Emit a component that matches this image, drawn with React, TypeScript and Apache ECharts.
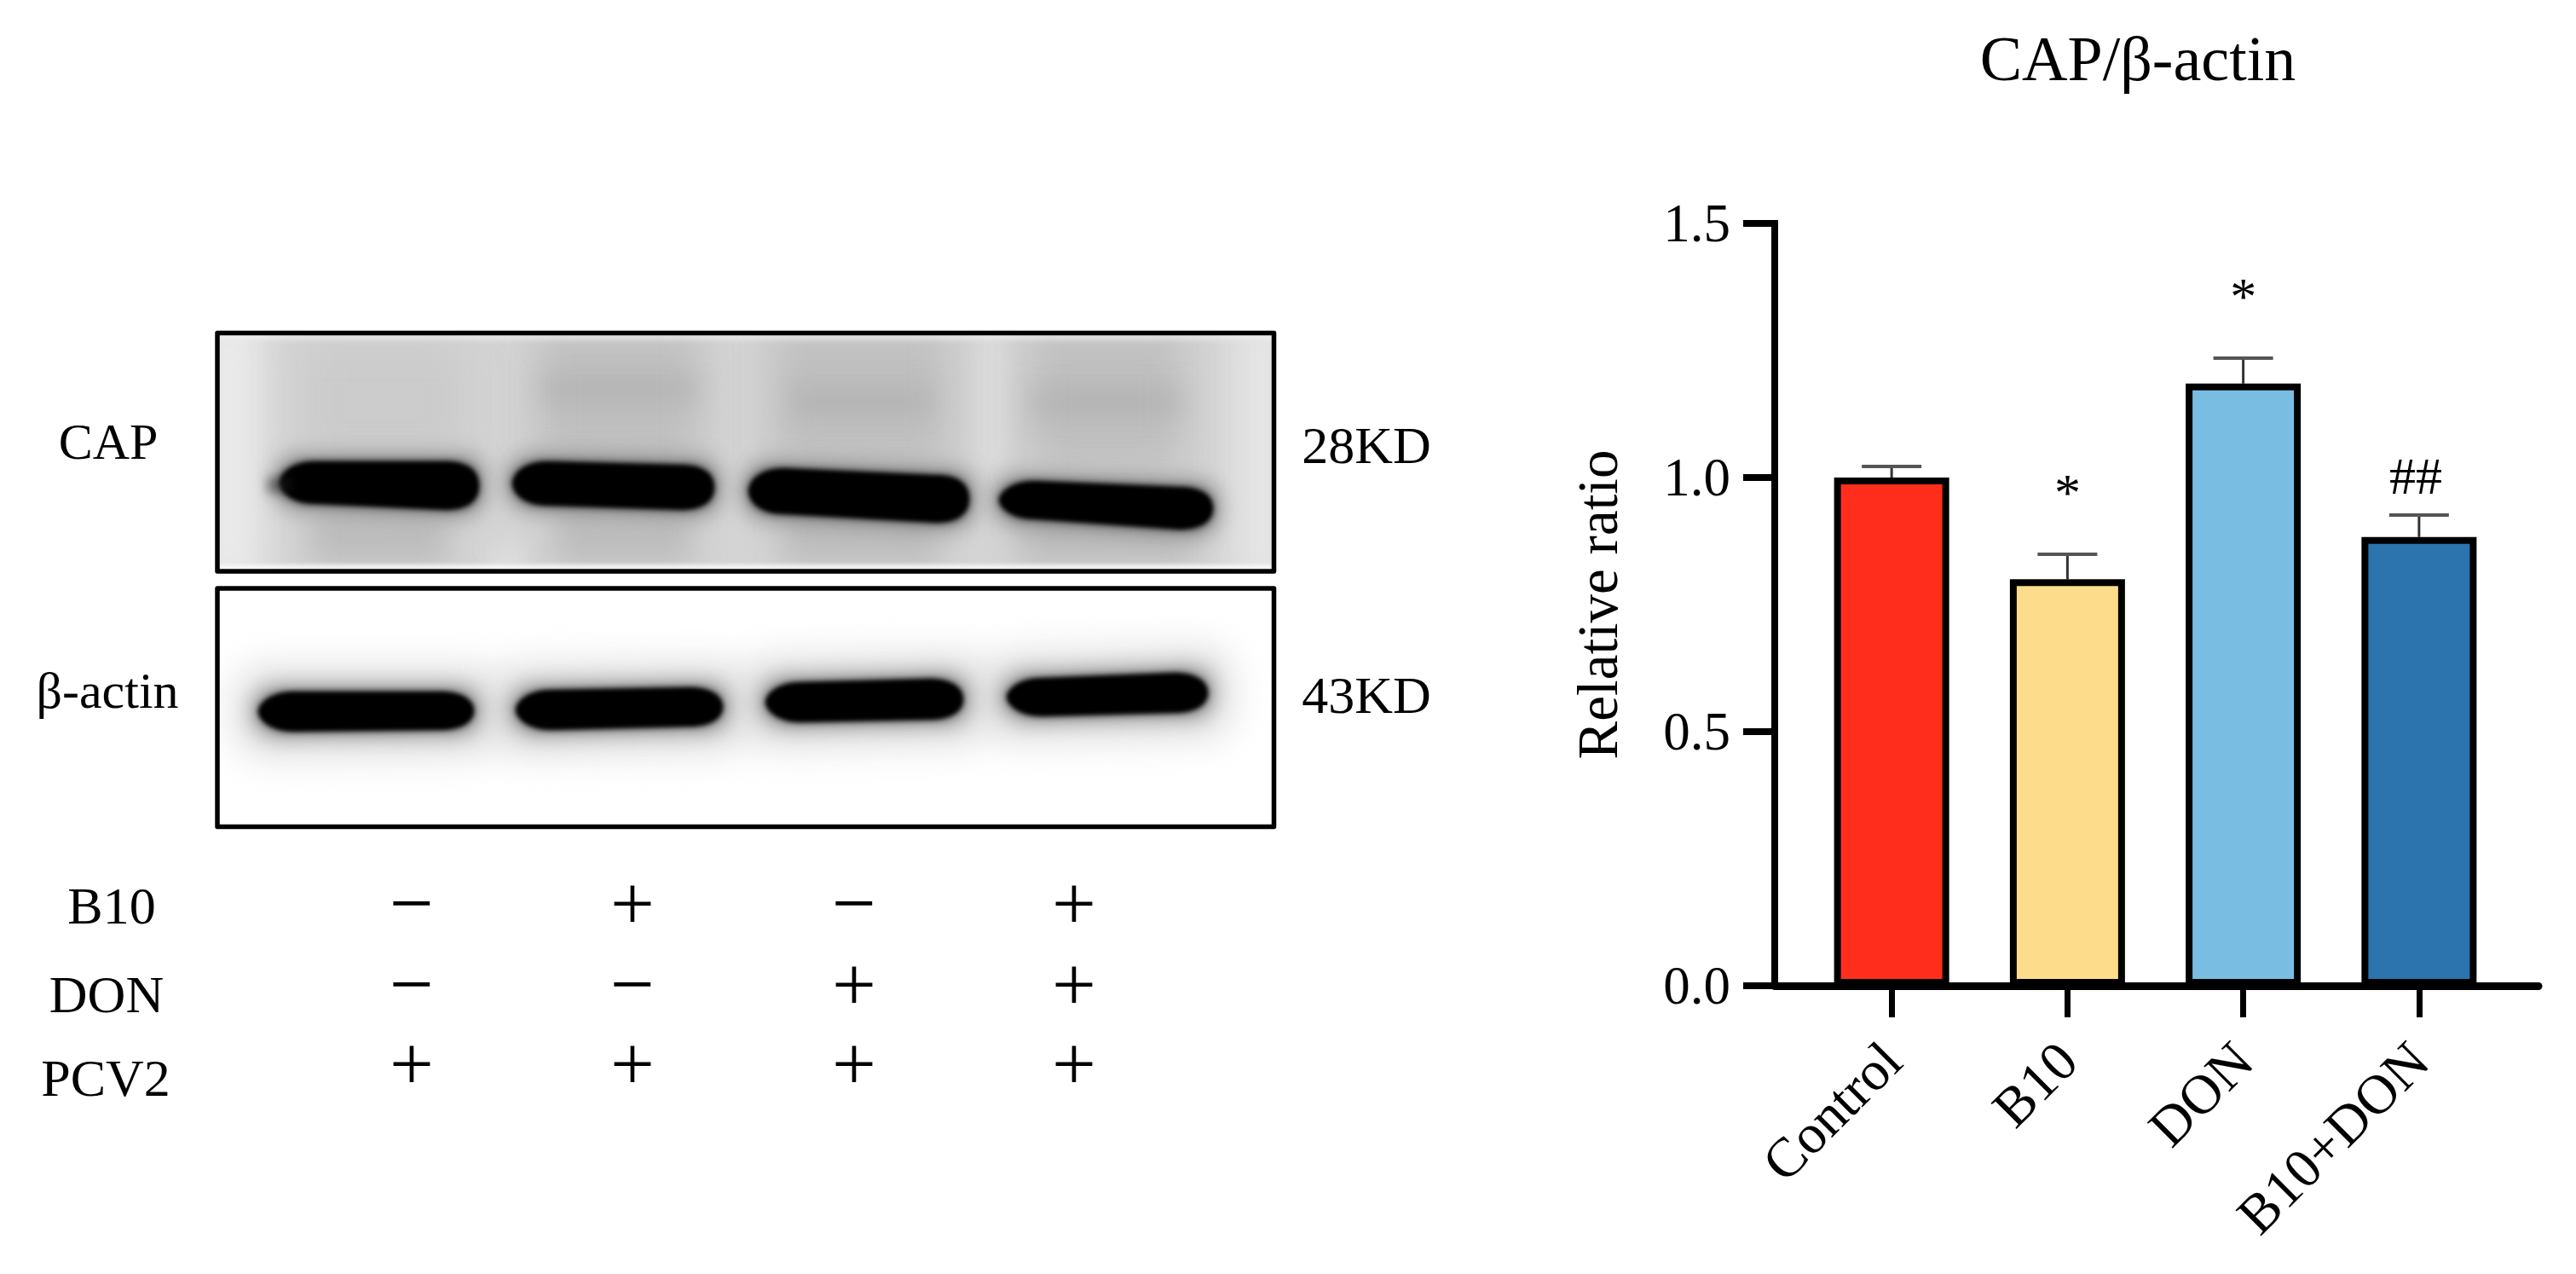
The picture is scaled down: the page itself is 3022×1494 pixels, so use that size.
import React, { useEffect, useRef } from "react";
import * as echarts from "echarts";

const categories = ["Control", "B10", "DON", "B10+DON"];
const meanValues = [1.0, 0.8, 1.185, 0.883];
const errorTops = [1.022, 0.849, 1.235, 0.926];
const annotations = ["", "*", "*", "##"];
const barColors = ["#FF2E1C", "#FDDD8B", "#7ABDE3", "#2B74AE"];
const yTicks = { min: 0, max: 1.5, interval: 0.5 };
const signRows = [
  { name: "B10", signs: ["−", "+", "−", "+"] },
  { name: "DON", signs: ["−", "−", "+", "+"] },
  { name: "PCV2", signs: ["+", "+", "+", "+"] },
];

const FONT = '"Liberation Serif", "Times New Roman", serif';

// x0, x1, topLeft, bottomLeft, topRight, bottomRight
type Band = [number, number, number, number, number, number];
const capBands: Band[] = [
  [328, 562, 541, 591, 541, 598],
  [601, 838, 541, 593, 545, 598],
  [878, 1137, 549, 603, 557, 613],
  [1172, 1423, 564, 609, 571, 621],
];
const actinBands: Band[] = [
  [303, 556, 811, 858, 811, 856],
  [605, 848, 809, 856, 806, 852],
  [898, 1130, 800, 847, 796, 844],
  [1181, 1417, 795, 840, 789, 836],
];

function bandPath(ctx: CanvasRenderingContext2D, b: Band, grow = 0) {
  const x0 = b[0] - grow;
  const x1 = b[1] + grow;
  const tl = b[2] - grow;
  const bl = b[3] + grow;
  const tr = b[4] - grow;
  const br = b[5] + grow;
  const il = 42;
  const ir = 40;
  const ml = (tl + bl) / 2;
  const mr = (tr + br) / 2;
  ctx.beginPath();
  ctx.moveTo(x0, ml);
  ctx.bezierCurveTo(x0 + 1, tl + 12, x0 + il * 0.4, tl, x0 + il, tl);
  ctx.lineTo(x1 - ir, tr);
  ctx.bezierCurveTo(x1 - ir * 0.35, tr, x1, tr + 10, x1, mr);
  ctx.bezierCurveTo(x1, br - 10, x1 - ir * 0.35, br, x1 - ir, br);
  ctx.lineTo(x0 + il, bl);
  ctx.bezierCurveTo(x0 + il * 0.4, bl, x0 + 1, bl - 12, x0, ml);
  ctx.closePath();
}

function drawBands(ctx: CanvasRenderingContext2D, bands: Band[], halos: [string, number, number][]) {
  for (const [color, grow, blur] of halos) {
    ctx.filter = `blur(${blur}px)`;
    ctx.fillStyle = color;
    for (const b of bands) {
      bandPath(ctx, b, grow);
      ctx.fill();
    }
  }
  ctx.filter = "blur(2.5px)";
  ctx.fillStyle = "#000";
  for (const b of bands) {
    bandPath(ctx, b);
    ctx.fill();
  }
  ctx.filter = "none";
}

function blob(ctx: CanvasRenderingContext2D, x: number, y: number, w: number, h: number, color: string, blur: number) {
  ctx.filter = `blur(${blur}px)`;
  ctx.fillStyle = color;
  ctx.fillRect(x, y, w, h);
  ctx.filter = "none";
}

function makeCapBlot(): string {
  const c = document.createElement("canvas");
  c.width = 1242;
  c.height = 281;
  const ctx = c.getContext("2d")!;
  ctx.fillStyle = "#d4d4d4";
  ctx.fillRect(0, 0, c.width, c.height);
  ctx.translate(-254, -389);
  // lighter margins
  blob(ctx, 235, 370, 70, 320, "rgba(240,240,240,0.9)", 24);
  blob(ctx, 1450, 370, 65, 320, "rgba(235,235,235,0.85)", 24);
  blob(ctx, 575, 640, 40, 40, "rgba(228,228,228,0.6)", 12);
  blob(ctx, 1145, 395, 35, 160, "rgba(225,225,225,0.6)", 12);
  // lane smears above the bands
  blob(ctx, 350, 395, 200, 150, "rgba(180,180,180,0.25)", 26);
  for (const [x, w] of [[628, 195], [905, 210], [1205, 185]]) {
    blob(ctx, x, 385, w, 170, "rgba(160,160,160,0.4)", 24);
  }
  blob(ctx, 632, 440, 190, 34, "rgba(145,145,145,0.22)", 14);
  blob(ctx, 925, 452, 170, 36, "rgba(145,145,145,0.22)", 14);
  blob(ctx, 1205, 452, 185, 38, "rgba(145,145,145,0.22)", 14);
  // lane smears below the bands
  for (const [x, w] of [[362, 165], [648, 165], [915, 190], [1195, 205]]) {
    blob(ctx, x, 590, w, 72, "rgba(150,150,150,0.38)", 18);
  }
  // edge highlights
  blob(ctx, 254, 392, 1242, 6, "rgba(245,245,245,0.7)", 3);
  blob(ctx, 254, 662, 1242, 6, "rgba(250,250,250,0.9)", 2);
  drawBands(ctx, capBands, [
    ["rgba(110,110,110,0.45)", 12, 10],
    ["rgba(60,60,60,0.6)", 3, 5],
  ]);
  // faint tail on the first band
  blob(ctx, 314, 560, 28, 18, "rgba(30,30,30,0.5)", 6);
  return c.toDataURL();
}

function makeActinBlot(): string {
  const c = document.createElement("canvas");
  c.width = 1242;
  c.height = 280;
  const ctx = c.getContext("2d")!;
  ctx.fillStyle = "#ffffff";
  ctx.fillRect(0, 0, c.width, c.height);
  ctx.translate(-254, -688);
  drawBands(ctx, actinBands, [
    ["rgba(185,185,185,0.45)", 30, 20],
    ["rgba(120,120,120,0.55)", 10, 10],
    ["rgba(60,60,60,0.6)", 2, 5],
  ]);
  return c.toDataURL();
}

function label(text: string, x: number, y: number, size: number, align = "center", vAlign = "middle") {
  return {
    type: "text",
    x,
    y,
    silent: true,
    style: { text, fill: "#000", font: `${size}px ${FONT}`, textAlign: align, textVerticalAlign: vAlign },
  };
}

const signX = [483, 742, 1002, 1260];
const rowY = [1059, 1154, 1247];
const rowLabelX = [131, 125, 124];
const rowLabelY = [1062, 1166, 1264];
const markLift: Record<string, number> = { "*": 42, "##": 15 };
const markShift: Record<string, number> = { "*": 0, "##": -4 };

export default function App() {
  const ref = useRef<HTMLDivElement>(null);
  useEffect(() => {
    document.body.style.margin = "0";
    document.body.style.overflow = "hidden";
    const chart = echarts.init(ref.current!, undefined, { renderer: "svg", width: 3022, height: 1494 });

    const blotGraphics: any[] = [
      { type: "image", x: 254, y: 389, silent: true, style: { image: makeCapBlot(), width: 1242, height: 281 } },
      { type: "image", x: 254, y: 688, silent: true, style: { image: makeActinBlot(), width: 1242, height: 280 } },
    ];
    for (const [top, bottom] of [[390.5, 670], [690, 969.5]]) {
      blotGraphics.push({
        type: "rect",
        silent: true,
        shape: { x: 255, y: top, width: 1239.5, height: bottom - top },
        style: { fill: "none", stroke: "#000", lineWidth: 5.5, lineJoin: "round" },
      });
    }

    const textGraphics: any[] = [
      label("CAP", 127, 518, 60),
      label("β-actin", 126, 810, 60),
      label("28KD", 1603, 522, 62),
      label("43KD", 1603, 815, 62),
    ];
    signRows.forEach((row, r) => {
      textGraphics.push(label(row.name, rowLabelX[r], rowLabelY[r], 62));
      row.signs.forEach((s, i) => {
        textGraphics.push(label(s, signX[i], rowY[r], 92));
      });
    });

    const option: any = {
      animation: false,
      backgroundColor: "#fff",
      title: {
        text: "CAP/β-actin",
        left: 2503,
        top: 27,
        textAlign: "center",
        textStyle: { fontFamily: FONT, fontSize: 74, fontWeight: "normal", color: "#000" },
      },
      grid: [
        { left: 2116, top: 262, width: 825, height: 894, containLabel: false },
        { left: 2082, top: 262, width: 896, height: 894, containLabel: false },
      ],
      xAxis: [
        {
          type: "category",
          gridIndex: 0,
          data: categories,
          axisLine: { show: false },
          axisTick: { show: true, alignWithLabel: true, length: 37, lineStyle: { color: "#000", width: 7 } },
          axisLabel: {
            rotate: 45,
            interval: 0,
            margin: 77,
            fontFamily: FONT,
            fontSize: 65,
            color: "#000",
          },
        },
        {
          type: "value",
          gridIndex: 1,
          min: 0,
          max: 1,
          axisLine: { show: true, lineStyle: { color: "#000", width: 9 } },
          axisTick: { show: false },
          axisLabel: { show: false },
          splitLine: { show: false },
        },
      ],
      yAxis: [
        {
          type: "value",
          gridIndex: 0,
          min: yTicks.min,
          max: yTicks.max,
          interval: yTicks.interval,
          offset: 34,
          name: "Relative ratio",
          nameLocation: "middle",
          nameGap: 175,
          nameRotate: 90,
          nameTextStyle: { fontFamily: FONT, fontSize: 67, color: "#000" },
          axisLine: { show: true, lineStyle: { color: "#000", width: 8, cap: "square" } },
          axisTick: { show: true, length: 37, lineStyle: { color: "#000", width: 8 } },
          axisLabel: {
            margin: 52,
            fontFamily: FONT,
            fontSize: 63,
            color: "#000",
            formatter: (v: number) => v.toFixed(1),
          },
          splitLine: { show: false },
        },
        { type: "value", gridIndex: 1, min: 0, max: 1.5, show: false },
      ],
      series: [
        {
          type: "custom",
          xAxisIndex: 0,
          yAxisIndex: 0,
          z: 1,
          encode: { x: 0, y: 2 },
          data: categories.map((_, i) => [i, meanValues[i], errorTops[i]]),
          renderItem: (params: any, api: any) => {
            const base = api.coord([api.value(0), api.value(1)]);
            const top = api.coord([api.value(0), api.value(2)]);
            const half = 35;
            const mark = annotations[params.dataIndex];
            const children: any[] = [
              {
                type: "line",
                shape: { x1: top[0], y1: top[1], x2: base[0], y2: base[1] },
                style: { stroke: "#333", lineWidth: 3 },
              },
              {
                type: "line",
                shape: { x1: top[0] - half, y1: top[1], x2: top[0] + half, y2: top[1] },
                style: { stroke: "#555", lineWidth: 4 },
              },
            ];
            if (mark) {
              children.push({
                type: "text",
                style: {
                  text: mark,
                  x: top[0] + markShift[mark],
                  y: top[1] - markLift[mark],
                  textAlign: "center",
                  textVerticalAlign: "bottom",
                  font: `62px ${FONT}`,
                  fill: "#000",
                },
              });
            }
            return { type: "group", children };
          },
        },
        {
          type: "bar",
          xAxisIndex: 0,
          yAxisIndex: 0,
          z: 2,
          barWidth: 135,
          data: meanValues.map((v, i) => ({
            value: v,
            itemStyle: { color: barColors[i], borderColor: "#000", borderWidth: 8 },
          })),
        },
      ],
      graphic: [...blotGraphics, ...textGraphics],
    };
    chart.setOption(option);
    return () => chart.dispose();
  }, []);
  return (
    <div
      ref={ref}
      style={{ position: "absolute", left: 0, top: 0, width: 3022, height: 1494, background: "#fff" }}
    />
  );
}
